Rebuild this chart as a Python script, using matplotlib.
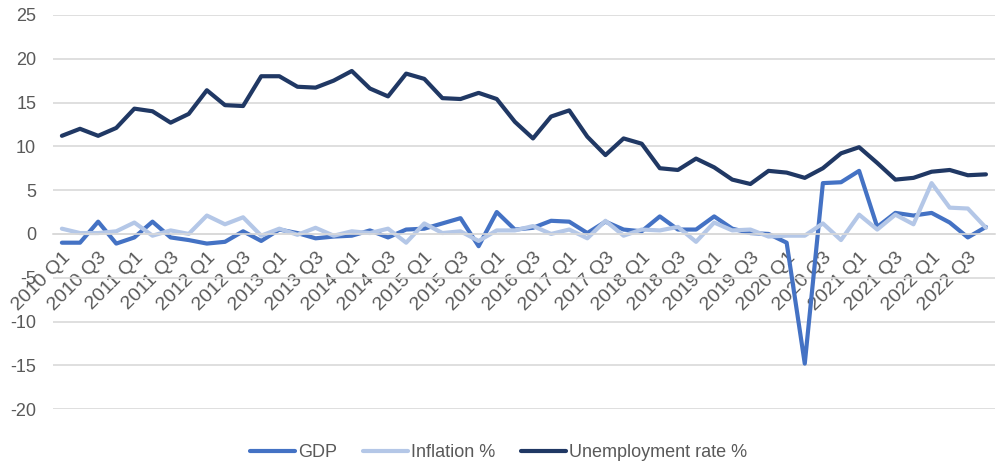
import numpy as np
import matplotlib.pyplot as plt

plt.rcParams['font.family'] = ['Liberation Sans']
plt.rcParams['axes.unicode_minus'] = False

quarters = [f"{y} Q{q}" for y in range(2010, 2023) for q in range(1, 5)]

gdp = [-1.0, -1.0, 1.4, -1.1, -0.4, 1.4, -0.4, -0.7, -1.1, -0.9, 0.3, -0.8,
       0.5, 0.1, -0.5, -0.3, -0.2, 0.4, -0.4, 0.5, 0.6, 1.2, 1.8, -1.4,
       2.5, 0.5, 0.7, 1.5, 1.4, 0.1, 1.4, 0.5, 0.3, 2.0, 0.5, 0.5,
       2.0, 0.6, 0.1, 0.0, -1.0, -14.8, 5.8, 5.9, 7.2, 0.8, 2.4, 2.1,
       2.4, 1.3, -0.4, 0.8]
inflation = [0.6, 0.1, 0.1, 0.3, 1.3, -0.2, 0.4, 0.0, 2.1, 1.1, 1.9, -0.2,
             0.6, -0.1, 0.7, -0.2, 0.3, 0.1, 0.6, -1.0, 1.2, 0.1, 0.3, -0.8,
             0.4, 0.4, 0.9, 0.0, 0.5, -0.5, 1.5, -0.2, 0.5, 0.4, 0.8, -0.9,
             1.3, 0.4, 0.5, -0.3, -0.2, -0.2, 1.2, -0.7, 2.2, 0.5, 2.2, 1.1,
             5.8, 3.0, 2.9, 0.7]
unemployment = [11.2, 12.0, 11.2, 12.1, 14.3, 14.0, 12.7, 13.7, 16.4, 14.7, 14.6, 18.0,
                18.0, 16.8, 16.7, 17.5, 18.6, 16.6, 15.7, 18.3, 17.7, 15.5, 15.4, 16.1,
                15.4, 12.8, 10.9, 13.4, 14.1, 11.1, 9.0, 10.9, 10.3, 7.5, 7.3, 8.6,
                7.6, 6.2, 5.7, 7.2, 7.0, 6.4, 7.5, 9.2, 9.9, 8.1, 6.2, 6.4,
                7.1, 7.3, 6.7, 6.8]

fig, ax = plt.subplots(figsize=(9.97, 4.66), dpi=100)
fig.subplots_adjust(left=0.053, right=0.998, top=0.968, bottom=0.122)

x = np.arange(len(quarters))
style = dict(lw=3, solid_joinstyle='round', solid_capstyle='round')
ax.plot(x, gdp, color='#4472C4', label='GDP', **style)
ax.plot(x, inflation, color='#B4C7E7', label='Inflation %', **style)
ax.plot(x, unemployment, color='#203864', label='Unemployment rate %', **style)

# bottom axis sits on the zero line, like the Excel original
ax.spines['bottom'].set_position(('data', 0))
ax.spines['bottom'].set_color('#D9D9D9')
ax.spines['bottom'].set_linewidth(1.2)
for s in ['top', 'right', 'left']:
    ax.spines[s].set_visible(False)

ax.set_xlim(-0.5, len(quarters) - 0.5)
ax.set_ylim(-20, 25)
ax.set_yticks(range(-20, 26, 5))
ax.yaxis.grid(True, color='#D9D9D9', lw=1.2)
ax.set_axisbelow(True)

ax.set_xticks(x[::2])
ax.set_xticklabels(quarters[::2])
ax.tick_params(axis='both', length=0, labelsize=13, colors='#595959')
ax.tick_params(axis='y', pad=12)
ax.tick_params(axis='x', pad=11, labelsize=14)
plt.setp(ax.get_xticklabels(), rotation=45, ha='right', va='top',
         rotation_mode='anchor')

fig.legend(loc='center', bbox_to_anchor=(0.5, 0.028), ncol=3, frameon=False,
           fontsize=13, handlelength=2.5, handletextpad=0.15, columnspacing=1.45,
           labelcolor='#595959')

fig.savefig('out.png')
